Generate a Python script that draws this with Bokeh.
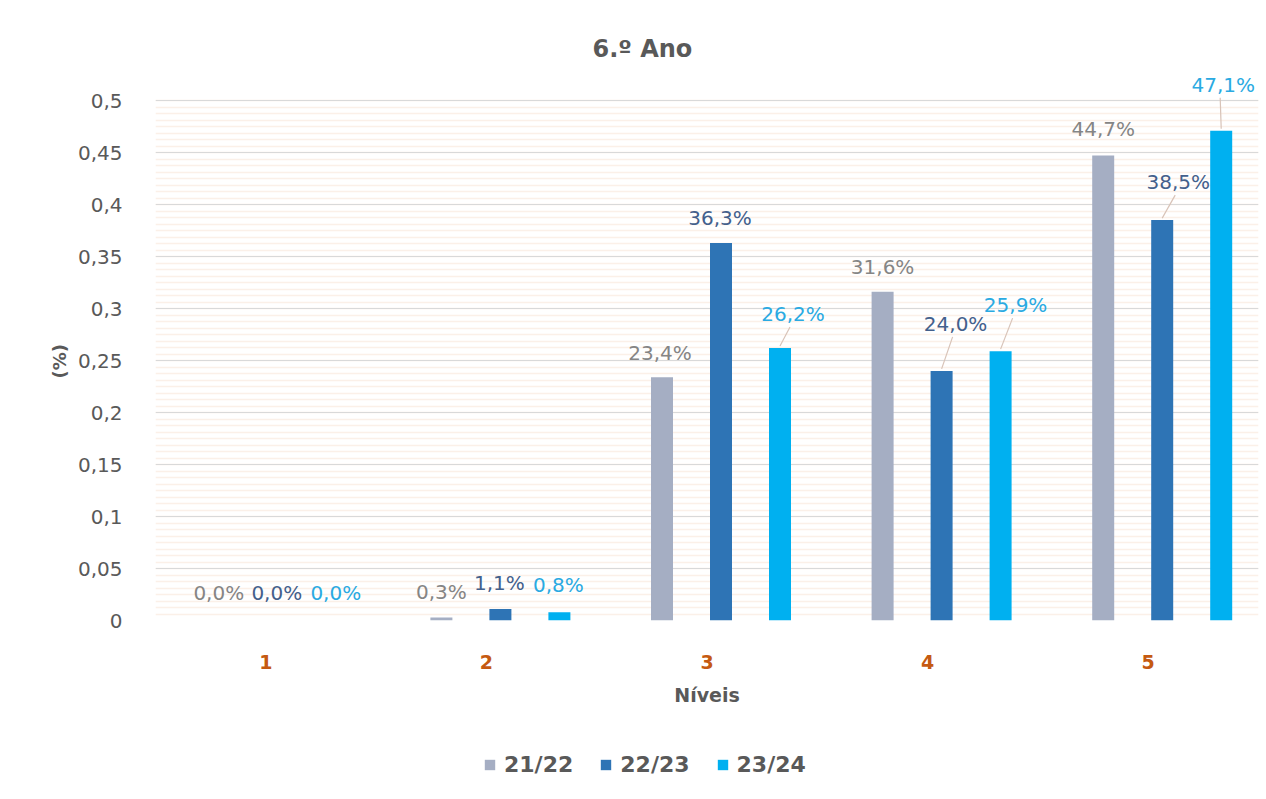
import numpy as np
from bokeh.plotting import figure
from bokeh.layouts import column
from bokeh.models import (ColumnDataSource, FixedTicker, CustomJSTickFormatter, Legend,
                          LegendItem, Range1d, Title)
from bokeh.core.properties import value
from bokeh.embed import file_html
from bokeh.resources import INLINE

# Data: share of students per level (fraction of 1)
niveis = [1, 2, 3, 4, 5]
anos = ["21/22", "22/23", "23/24"]
v_2122 = [0.000, 0.003, 0.234, 0.316, 0.447]
v_2223 = [0.000, 0.011, 0.363, 0.240, 0.385]
v_2324 = [0.000, 0.008, 0.262, 0.259, 0.471]
series = [v_2122, v_2223, v_2324]

# Styling
bar_colors = ["#a5aec3", "#2e74b5", "#00b0f0"]
label_colors = ["#858585", "#43608c", "#2aaae2"]
FONT = "DejaVu Sans"
TEXT_GREY = "#595959"

# Layout (pixels)
W, H, LEG_H = 1266, 742, 57
LEFT, RIGHT, TOP, BOTTOM = 155, 8, 70, 122
frame_w = W - LEFT - RIGHT
frame_h = H - TOP - BOTTOM
Y_MAX = 0.5
y_top = Y_MAX * frame_h / (frame_h - 30)      # 30 px headroom above the 0,5 line
px_x = 5.0 / frame_w
px_y = y_top / frame_h
group_shift = 14 * px_x
dodge = [-59 * px_x, 0.0, 59 * px_x]
bar_w = 22 * px_x
# label nudges (dx, dy) in pixels from each bar's top centre, and whether a leader is drawn
nudges = [
    [(-2, -28), (0, -25), (-2, -24), (0, -25), (0, -27)],
    [(-3, -28), (-1, -26), (-1, -25), (14, -47), (16, -38)],
    [(-3, -28), (-1, -27), (13, -34), (15, -46), (2, -46)],
]
leaders = [
    [False] * 5,
    [False, False, False, True, True],
    [False, False, True, True, True],
]

p = figure(width=W, height=H, output_backend="svg", toolbar_location=None,
           x_range=Range1d(0.5, 5.5), y_range=Range1d(0, y_top),
           min_border_left=LEFT, min_border_right=RIGHT,
           min_border_top=TOP, min_border_bottom=BOTTOM,
           background_fill_color="white", border_fill_color="white",
           outline_line_color=None)

# title
p.title.text = "6.º Ano"
p.title.align = "left"
p.title.offset = 437
p.title.text_font = FONT
p.title.text_font_size = "24px"
p.title.text_font_style = "bold"
p.title.text_color = TEXT_GREY
p.title.standoff = 16

# grid: major lines every 0.05 plus thin peach stripes in between (up to 0,5 only)
major = [round(i * 0.05, 2) for i in range(11)]
minor = [float(x) for x in np.arange(0, Y_MAX + 1e-9, 0.05 / 8)]
p.yaxis.ticker = FixedTicker(ticks=major, minor_ticks=minor)
p.ygrid.grid_line_color = "#d9d9d9"
p.ygrid.grid_line_width = 1.2
p.ygrid.minor_grid_line_color = "#f7e3d6"
p.ygrid.minor_grid_line_width = 1.5
p.ygrid.minor_grid_line_alpha = 0.55
p.xgrid.grid_line_color = None

# axes
p.yaxis.formatter = CustomJSTickFormatter(
    code="return (Math.round(tick*100)/100).toString().replace('.', ',');")
p.yaxis.axis_line_color = None
p.yaxis.major_tick_line_color = None
p.yaxis.minor_tick_line_color = None
p.yaxis.major_label_text_font = FONT
p.yaxis.major_label_text_font_size = "20px"
p.yaxis.major_label_text_color = TEXT_GREY
p.yaxis.major_label_standoff = 27

# y-axis caption, placed beside the 0..0,5 band
p.add_layout(Title(text="(%)", align="left", offset=242, standoff=9,
                   text_font=FONT, text_font_size="18px", text_font_style="bold",
                   text_color=TEXT_GREY), "left")

p.xaxis.ticker = FixedTicker(ticks=niveis)
p.xaxis.axis_line_color = None
p.xaxis.major_tick_line_color = None
p.xaxis.minor_tick_line_color = None
p.xaxis.major_label_text_font = FONT
p.xaxis.major_label_text_font_size = "19px"
p.xaxis.major_label_text_font_style = "bold"
p.xaxis.major_label_text_color = "#c55a11"
p.xaxis.major_label_standoff = 28
p.xaxis.axis_label = "Níveis"
p.xaxis.axis_label_text_font = FONT
p.xaxis.axis_label_text_font_size = "19px"
p.xaxis.axis_label_text_font_style = "bold"
p.xaxis.axis_label_text_color = TEXT_GREY
p.xaxis.axis_label_standoff = 12

for i, vals in enumerate(series):
    xs = [n + group_shift + dodge[i] for n in niveis]
    src = ColumnDataSource(dict(
        x=xs, top=vals,
        label=[f"{v * 100:.1f}%".replace(".", ",") for v in vals],
        dx=[d[0] for d in nudges[i]], dy=[d[1] for d in nudges[i]],
    ))
    p.vbar(x="x", top="top", width=bar_w, source=src, color=bar_colors[i], line_color=None)

    # leader lines for labels moved away from their bar
    x0, y0, x1, y1 = [], [], [], []
    for k, v in enumerate(vals):
        if leaders[i][k]:
            dx, dy = nudges[i][k]
            x0.append(xs[k])
            y0.append(v + 2 * px_y)
            x1.append(xs[k] + (dx - 3) * px_x)
            y1.append(v - (dy + 13) * px_y)
    if x0:
        p.segment(x0=x0, y0=y0, x1=x1, y1=y1, line_color="#d8c3b8", line_width=1.2)

    p.text(x="x", y="top", text="label", source=src, x_offset="dx", y_offset="dy",
           text_align="center", text_baseline="middle",
           text_font=value(FONT), text_font_size="20px", text_color=label_colors[i])

# legend strip under the chart
lf = figure(width=W, height=LEG_H, output_backend="svg", toolbar_location=None,
            x_range=Range1d(0, 1), y_range=Range1d(0, 1),
            x_axis_type=None, y_axis_type=None,
            min_border_left=0, min_border_right=0, min_border_top=0, min_border_bottom=0,
            outline_line_color=None, background_fill_color="white",
            border_fill_color="white")
lf.xgrid.visible = False
lf.ygrid.visible = False
items = []
for name, c in zip(anos, bar_colors):
    r = lf.vbar(x=[-5], top=[-5], width=0.1, color=c, line_color=None)
    items.append(LegendItem(label=name, renderers=[r]))
legend = Legend(items=items, orientation="horizontal", location=(328, 22),
                label_text_font=FONT, label_text_font_size="22px",
                label_text_font_style="bold", label_text_color=TEXT_GREY,
                glyph_width=13, glyph_height=13, label_standoff=8, spacing=26,
                border_line_color=None, background_fill_alpha=0)
lf.add_layout(legend, "center")

layout = column(p, lf, spacing=0)

open("out.html", "w").write(file_html(layout, INLINE))
